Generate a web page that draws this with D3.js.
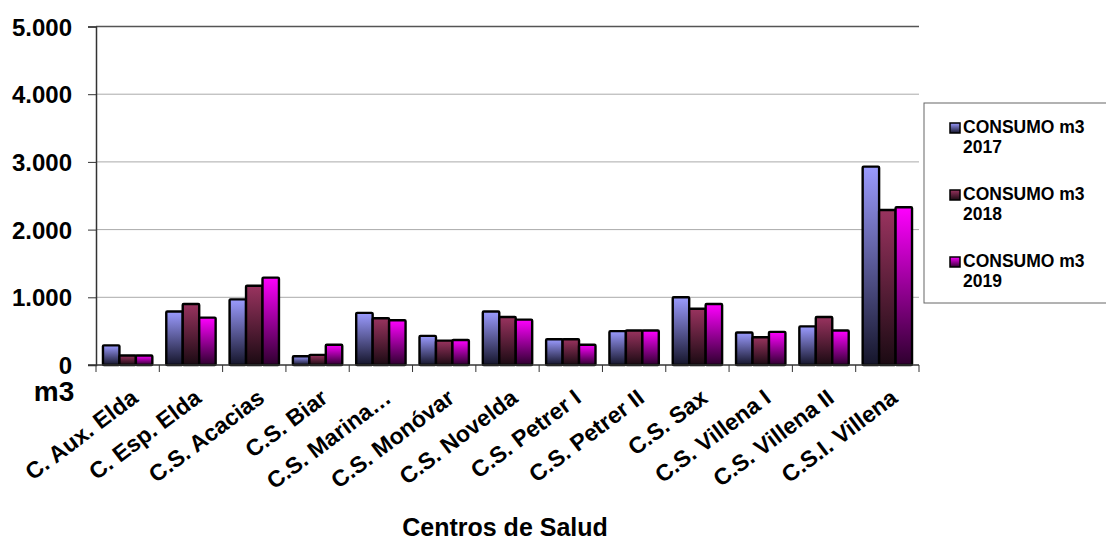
<!DOCTYPE html>
<html>
<head>
<meta charset="utf-8">
<script src="https://cdn.jsdelivr.net/npm/d3@7"></script>
<style>
  body { margin: 0; background: #fff; }
  svg text { font-family: "Liberation Sans", Arial, sans-serif; font-weight: bold; fill: #000; }
</style>
</head>
<body>
<svg width="1106" height="543"></svg>
<script>
// categories and series
var centros = ["C. Aux. Elda", "C. Esp. Elda", "C.S. Acacias", "C.S. Biar", "C.S. Marina\u2026",
  "C.S. Monóvar", "C.S. Novelda", "C.S. Petrer I", "C.S. Petrer II", "C.S. Sax",
  "C.S. Villena I", "C.S. Villena II", "C.S.I. Villena"];
var consumo2017 = [290, 790, 970, 130, 770, 430, 790, 380, 500, 1000, 480, 570, 2930];
var consumo2018 = [140, 900, 1170, 150, 690, 360, 710, 380, 510, 830, 410, 710, 2290];
var consumo2019 = [140, 700, 1290, 300, 660, 370, 670, 300, 510, 900, 490, 510, 2330];
var seriesNames = ["CONSUMO m3 2017", "CONSUMO m3 2018", "CONSUMO m3 2019"];
var yTicks = [0, 1000, 2000, 3000, 4000, 5000];

var svg = d3.select("svg");
var plotL = 96, plotR = 919, plotT = 26.5, plotB = 365;

var series = [consumo2017, consumo2018, consumo2019];
var gradColors = [["#9b9bff", "#15152a"], ["#99335f", "#1a0a12"], ["#ff00ff", "#2e002e"]];

var defs = svg.append("defs");
gradColors.forEach(function(c, i) {
  var g = defs.append("linearGradient")
    .attr("id", "grad" + i)
    .attr("x1", 0).attr("y1", 0).attr("x2", 0).attr("y2", 1);
  g.append("stop").attr("offset", "0%").attr("stop-color", c[0]);
  g.append("stop").attr("offset", "100%").attr("stop-color", c[1]);
});

var x0 = d3.scaleBand().domain(centros).range([plotL, plotR]).paddingInner(0.22).paddingOuter(0.11);
var x1 = d3.scaleBand().domain([0, 1, 2]).range([0, x0.bandwidth()]);
var y = d3.scaleLinear().domain([0, 5000]).range([plotB, plotT]);

// gridlines
svg.append("g").selectAll("line")
  .data(yTicks.slice(1))
  .enter().append("line")
  .attr("x1", plotL).attr("x2", plotR)
  .attr("y1", function(d) { return y(d); })
  .attr("y2", function(d) { return y(d); })
  .attr("stroke", function(d) { return d === 5000 ? "#555" : "#aaa"; })
  .attr("stroke-width", function(d) { return d === 5000 ? 1.5 : 1; });

// bars
var groups = svg.append("g").selectAll("g")
  .data(centros)
  .enter().append("g")
  .attr("transform", function(d) { return "translate(" + x0(d) + ",0)"; });

groups.selectAll("rect")
  .data(function(d, i) { return series.map(function(s, k) { return { k: k, v: s[i] }; }); })
  .enter().append("rect")
  .attr("x", function(d) { return x1(d.k); })
  .attr("width", x1.bandwidth())
  .attr("y", function(d) { return y(d.v); })
  .attr("height", function(d) { return y(0) - y(d.v); })
  .attr("fill", function(d) { return "url(#grad" + d.k + ")"; })
  .attr("stroke", "#000")
  .attr("stroke-width", 2.4)
  .attr("rx", 1);

// y axis
var yAxis = svg.append("g")
  .attr("transform", "translate(" + plotL + ",0)")
  .call(d3.axisLeft(y).tickValues(yTicks).tickSize(8).tickPadding(16)
    .tickFormat(function(d) { return d3.format(",")(d).replace(/,/g, "."); }));
yAxis.select(".domain").attr("stroke", "#333").attr("stroke-width", 1.5);
yAxis.selectAll(".tick line").attr("stroke", "#333");
yAxis.selectAll(".tick text").style("font-size", "24px").attr("dy", "0.36em");

// x axis
var xAxis = svg.append("g")
  .attr("transform", "translate(0," + plotB + ")");
xAxis.append("line")
  .attr("x1", plotL - 8).attr("x2", plotR)
  .attr("stroke", "#333").attr("stroke-width", 1.5);
xAxis.selectAll("line.tk")
  .data(d3.range(centros.length + 1))
  .enter().append("line")
  .attr("class", "tk")
  .attr("x1", function(i) { return plotL + i * x0.step(); })
  .attr("x2", function(i) { return plotL + i * x0.step(); })
  .attr("y1", 0).attr("y2", 7)
  .attr("stroke", "#333");
xAxis.selectAll("text")
  .data(centros)
  .enter().append("text")
  .attr("transform", function(d) {
    return "translate(" + (x0(d) + x0.bandwidth() / 2 + 2) + ",23) rotate(-37)";
  })
  .attr("text-anchor", "end")
  .attr("dy", "0.7em")
  .style("font-size", "23px")
  .text(function(d) { return d; });

svg.append("text")
  .attr("x", 54).attr("y", 401)
  .attr("text-anchor", "middle")
  .style("font-size", "28px")
  .text("m3");

svg.append("text")
  .attr("x", 505).attr("y", 536)
  .attr("text-anchor", "middle")
  .style("font-size", "25px")
  .text("Centros de Salud");

// legend
var legend = svg.append("g");
legend.append("rect")
  .attr("x", 924).attr("y", 103)
  .attr("width", 190).attr("height", 200)
  .attr("fill", "#fff").attr("stroke", "#666");
var items = legend.selectAll("g.item")
  .data(seriesNames)
  .enter().append("g")
  .attr("class", "item")
  .attr("transform", function(d, i) { return "translate(950," + (133 + i * 67) + ")"; });
items.append("rect")
  .attr("x", 0).attr("y", -10).attr("width", 10).attr("height", 10)
  .attr("fill", function(d, i) { return "url(#grad" + i + ")"; })
  .attr("stroke", "#000").attr("stroke-width", 1.5);
items.append("text")
  .attr("x", 13).attr("y", 0)
  .style("font-size", "17.5px")
  .text(function(d) { return d.slice(0, 10); });
items.append("text")
  .attr("x", 13).attr("y", 20)
  .style("font-size", "17.5px")
  .text(function(d) { return d.slice(11); });
</script>
</body>
</html>
